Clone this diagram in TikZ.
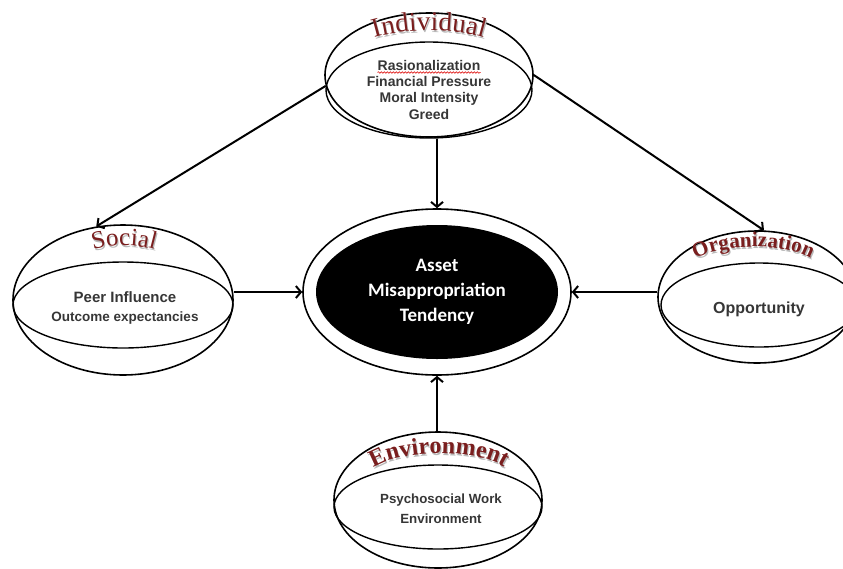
\documentclass[tikz,border=0pt]{standalone}
\usepackage{fontspec}
\setmainfont{Liberation Sans}
\newfontfamily\headfont{Liberation Serif}
\newfontfamily\assetfont{Carlito}
\usetikzlibrary{arrows.meta, positioning, shapes.geometric, calc, decorations.text, decorations.pathmorphing}
\definecolor{headred}{HTML}{7A1E1E}
\definecolor{headshadow}{HTML}{B8B8B8}
\definecolor{txtgray}{HTML}{363636}
\definecolor{spellred}{HTML}{E0201E}

\tikzset{
  outerell/.style={ellipse, draw, line width=1.6pt, inner sep=0pt},
  innerell/.style={ellipse, draw, line width=1.4pt, inner sep=0pt},
  arr/.style={line width=2pt, -{Straight Barb[length=5pt, width=12pt]}},
  factor/.style={font=\bfseries, text=txtgray, inner sep=1pt},
  heading/.style n args={4}{decorate, decoration={text along path, text align=center,
      text={|\headfont#1\fontsize{#2}{#2}\selectfont\color{#3}|#4}}}
}

\begin{document}
\begin{tikzpicture}[x=1pt, y=-1pt]
  \useasboundingbox (0,0) rectangle (843,568);

  % centre
  \node[outerell, fill=white, minimum width=268, minimum height=166] (amtOut) at (437,292) {};
  \node[ellipse, fill=black, minimum width=242, minimum height=134, inner sep=0pt,
        align=center, text=white, font=\assetfont\bfseries\fontsize{19}{25}\selectfont] (amtIn) at (437,292)
        {Asset\\Misappropriation\\Tendency};

  % individual
  \node[outerell, minimum width=208, minimum height=124] (indOut) at (429,75) {};
  \node[innerell, minimum width=206, minimum height=96] (indIn) at (429,90) {};
  \path[heading={}{27}{headshadow}{Individual}] (366,43) .. controls (399,29) and (461,29) .. (494,43);
  \path[heading={}{27}{headred}{Individual}] (365,41) .. controls (398,27) and (460,27) .. (493,41);
  \node[factor, font=\bfseries\fontsize{14}{14}\selectfont, text height=10pt, text depth=4pt, inner xsep=0pt, anchor=base] (rasio) at (429,70) {Rasionalization};
  \node[factor, font=\bfseries\fontsize{14}{14}\selectfont, text height=10pt, text depth=4pt, below=0pt of rasio] (finpres) {Financial Pressure};
  \node[factor, font=\bfseries\fontsize{14}{14}\selectfont, text height=10pt, text depth=4pt, below=0pt of finpres] (moral) {Moral Intensity};
  \node[factor, font=\bfseries\fontsize{14}{14}\selectfont, text height=10pt, text depth=4pt, below=0pt of moral] (greed) {Greed};
  \draw[spellred, line width=0.6pt, decorate, decoration={snake, amplitude=0.8pt, segment length=3pt}]
    ([yshift=-2.5pt]rasio.base west) -- ([yshift=-2.5pt]rasio.base east);

  % social
  \node[outerell, minimum width=220, minimum height=150] (socOut) at (123,300) {};
  \node[innerell, minimum width=220, minimum height=86] (socIn) at (123,305) {};
  \path[heading={}{25}{headshadow}{Social}] (85,255) .. controls (108,245) and (142,245) .. (165,255);
  \path[heading={}{25}{headred}{Social}] (84,253) .. controls (107,243) and (141,243) .. (164,253);
  \node[factor, font=\bfseries\fontsize{15}{15}\selectfont, anchor=base] (peer) at (125,302) {Peer Influence};
  \node[factor, font=\bfseries\fontsize{13.5}{13.5}\selectfont, anchor=base] (outcome) at (125,321) {Outcome expectancies};

  % organization
  \node[outerell, minimum width=198, minimum height=132] (orgOut) at (757,297) {};
  \node[innerell, minimum width=196, minimum height=84] (orgIn) at (759,305) {};
  \path[heading={\bfseries}{21}{headshadow}{Organization}] (691,264) .. controls (716,244) and (793,244) .. (817,264);
  \path[heading={\bfseries}{21}{headred}{Organization}] (690,262) .. controls (715,242) and (792,242) .. (816,262);
  \node[factor, font=\bfseries\fontsize{16}{16}\selectfont, anchor=base] (opport) at (759,313) {Opportunity};

  % environment
  \node[outerell, minimum width=208, minimum height=136] (envOut) at (438,500) {};
  \node[innerell, minimum width=208, minimum height=84] (envIn) at (438,507) {};
  \path[heading={\bfseries}{24}{headshadow}{Environment}] (371,472) .. controls (397,450) and (483,450) .. (509,472);
  \path[heading={\bfseries}{24}{headred}{Environment}] (370,470) .. controls (396,448) and (482,448) .. (508,470);
  \node[factor, font=\bfseries\fontsize{13.3}{13.3}\selectfont, anchor=base] (psycho) at (441,503) {Psychosocial Work};
  \node[factor, font=\bfseries\fontsize{13.3}{13.3}\selectfont, anchor=base] (workenv) at (441,523) {Environment};

  % links
  \draw[arr] (indOut.186) -- (socOut.110);
  \draw[arr] (indOut.east) -- (orgOut.84);
  \draw[arr] (indIn.south -| amtOut.north) -- (amtOut.north);
  \draw[arr] (socOut.east |- amtOut.west) -- (amtOut.west);
  \draw[arr] (orgOut.west |- amtOut.east) -- (amtOut.east);
  \draw[arr] (envOut.north -| amtOut.south) -- (amtOut.south);
\end{tikzpicture}
\end{document}
